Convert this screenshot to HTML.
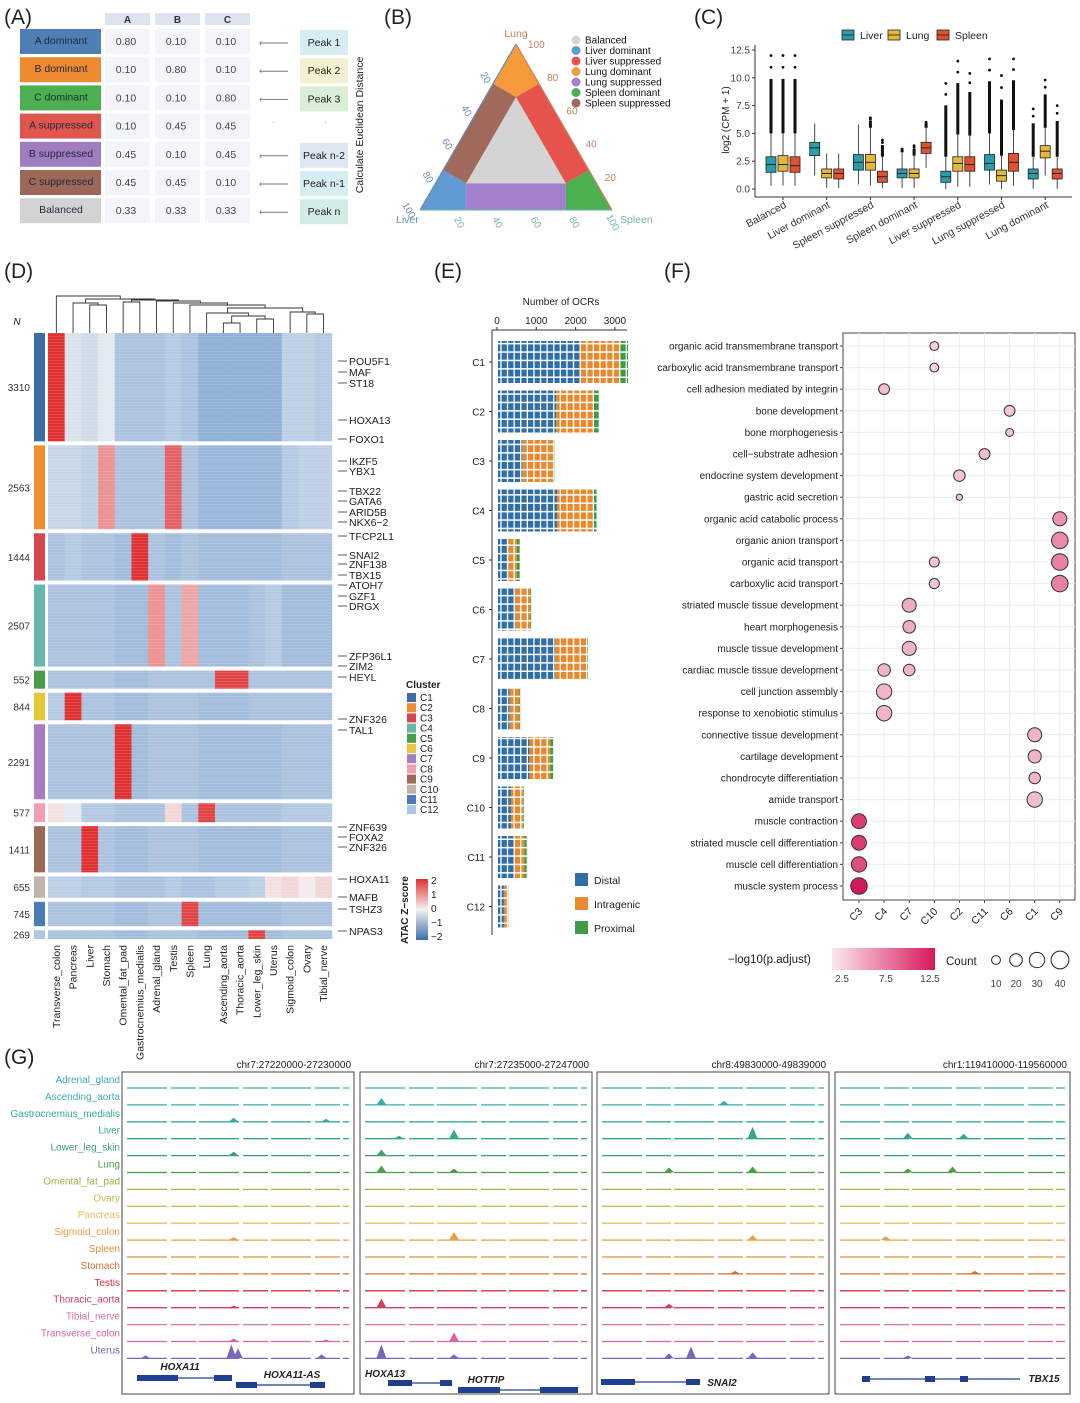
<!DOCTYPE html>
<html><head><meta charset="utf-8">
<style>
html,body{margin:0;padding:0;background:#fff;}
svg{display:block;font-family:"Liberation Sans",Arial,sans-serif;}
</style></head>
<body>
<svg id="fig" width="1080" height="1403" viewBox="0 0 1080 1403" xmlns="http://www.w3.org/2000/svg">
<defs>
<pattern id="brick" width="6.6" height="8.4" patternUnits="userSpaceOnUse">
<rect x="0" y="6.9" width="6.6" height="1.5" fill="#fff"/>
<rect x="5.3" y="0" width="1.3" height="8.4" fill="#fff"/>
</pattern>
<linearGradient id="pgrad" x1="0" x2="1" y1="0" y2="0"><stop offset="0" stop-color="#fbe8ef"/><stop offset="1" stop-color="#d6185a"/></linearGradient>
<linearGradient id="zgrad" x1="0" x2="0" y1="0" y2="1"><stop offset="0" stop-color="#e03030"/><stop offset="0.5" stop-color="#f2f2f2"/><stop offset="1" stop-color="#3a6fa8"/></linearGradient>
</defs>
</svg>
<script>
// ---------- DATA ----------
const aRows = ["A dominant","B dominant","C dominant","A suppressed","B suppressed","C suppressed","Balanced"];
const aValsA = ["0.80","0.10","0.10","0.10","0.45","0.45","0.33"];
const aValsB = ["0.10","0.80","0.10","0.45","0.10","0.45","0.33"];
const aValsC = ["0.10","0.10","0.80","0.45","0.45","0.10","0.33"];
const aPeaks = ["Peak 1","Peak 2","Peak 3","","Peak n-2","Peak n-1","Peak n"];

const boxGroups = ["Balanced","Liver dominant","Spleen suppressed","Spleen dominant","Liver suppressed","Lung suppressed","Lung dominant"];
const boxLiver = [[0.3,1.5,2.2,2.9,5.0,12.0],[1.2,3.0,3.7,4.2,5.9,5.9],[0.4,1.7,2.4,3.1,5.8,6.0],[0.1,1.0,1.4,1.8,3.3,3.6],[0,0.6,1.1,1.6,2.9,9.5],[0.4,1.7,2.3,3.1,5.0,11.7],[0,0.9,1.4,1.8,2.9,7.2]];
const boxLung = [[0.3,1.6,2.2,3.0,5.0,12.0],[0.1,1.0,1.4,1.8,3.2,3.5],[0.3,1.7,2.4,3.1,5.5,6.4],[0.1,1.0,1.4,1.8,3.0,3.9],[0.2,1.6,2.3,2.9,4.9,11.5],[0,0.7,1.2,1.7,3.0,10.2],[1.2,2.8,3.4,3.9,5.5,9.8]];
const boxSpleen = [[0.3,1.5,2.1,2.9,5.0,12.0],[0.1,0.9,1.4,1.8,3.2,3.5],[0.1,0.6,1.1,1.6,2.9,4.4],[1.9,3.2,3.7,4.2,5.5,6.0],[0.2,1.6,2.2,2.9,4.8,10.4],[0.3,1.6,2.4,3.2,5.3,11.7],[0,0.9,1.4,1.8,2.9,7.5]];
const boxTicks = [0,2.5,5,7.5,10,12.5];

const tissues = ["Transverse_colon","Pancreas","Liver","Stomach","Omental_fat_pad","Gastrocnemius_medialis","Adrenal_gland","Testis","Spleen","Lung","Ascending_aorta","Thoracic_aorta","Lower_leg_skin","Uterus","Sigmoid_colon","Ovary","Tibial_nerve"];
const clusterN = [3310,2563,1444,2507,552,844,2291,577,1411,655,745,269];
const hm = [
[2.0,-0.3,-0.4,-0.2,-0.8,-0.8,-0.8,-0.7,-0.8,-1.1,-1.1,-1.1,-1.1,-1.1,-0.6,-0.6,-0.7],
[-0.5,-0.5,-0.6,1.0,-0.8,-0.8,-0.8,1.5,-0.8,-1.0,-1.0,-1.0,-1.0,-1.0,-0.7,-0.6,-0.6],
[-0.8,-0.7,-0.8,-0.8,-0.9,2.0,-0.8,-0.9,-0.8,-0.9,-0.9,-0.9,-0.9,-0.9,-0.8,-0.8,-0.8],
[-0.8,-0.8,-0.8,-0.8,-0.9,-0.9,1.0,-0.8,0.8,-0.9,-0.9,-0.9,-0.8,-0.7,-0.9,-0.9,-0.9],
[-0.8,-0.8,-0.8,-0.8,-0.9,-0.9,-0.8,-0.8,-0.8,-0.8,1.8,1.8,-0.8,-0.8,-0.8,-0.8,-0.8],
[-0.7,2.0,-0.8,-0.8,-0.9,-0.9,-0.8,-0.8,-0.8,-0.9,-0.9,-0.9,-0.8,-0.8,-0.8,-0.8,-0.8],
[-0.8,-0.8,-0.8,-0.8,2.0,-0.9,-0.8,-0.8,-0.8,-0.9,-0.9,-0.9,-0.9,-0.9,-0.8,-0.8,-0.8],
[0.2,-0.2,-0.7,-0.7,-0.8,-0.8,-0.8,0.3,-0.8,1.8,-0.8,-0.8,-0.8,-0.8,-0.7,-0.7,-0.7],
[-0.8,-0.8,2.0,-0.8,-0.9,-0.9,-0.8,-0.8,-0.8,-0.9,-0.9,-0.9,-0.9,-0.9,-0.8,-0.8,-0.8],
[-0.6,-0.6,-0.7,-0.7,-0.8,-0.8,-0.8,-0.7,-0.8,-0.8,-0.7,-0.7,-0.6,0.2,0.3,0.1,0.3],
[-0.8,-0.8,-0.8,-0.8,-0.9,-0.9,-0.8,-0.8,1.8,-0.9,-0.9,-0.9,-0.9,-0.9,-0.8,-0.8,-0.8],
[-0.8,-0.8,-0.8,-0.8,-0.9,-0.9,-0.8,-0.8,-0.8,-0.9,-0.9,-0.9,1.8,-0.9,-0.8,-0.8,-0.8]];
const clusterColors = ["#3d6da4","#ee8e2e","#d9454f","#66b8a8","#4a9e48","#e6c73a","#a87cc0","#f0a0b0","#9a6a55","#c0b4ac","#4a7db8","#a8c8e6"];
const geneLabels = ["POU5F1","MAF","ST18","HOXA13","FOXO1","IKZF5","YBX1","TBX22","GATA6","ARID5B","NKX6−2","TFCP2L1","SNAI2","ZNF138","TBX15","ATOH7","GZF1","DRGX","ZFP36L1","ZIM2","HEYL","ZNF326","TAL1","ZNF639","FOXA2","ZNF326","HOXA11","MAFB","TSHZ3","NPAS3"];
const geneY = [361,372,383,420,439,461,471,491,501,512,522,536,555,564,575,585,596,606,656,666,677,719,730,827,837,847,879,897,909,931];

const ocrCats = ["C1","C2","C3","C4","C5","C6","C7","C8","C9","C10","C11","C12"];
const ocrDistal = [2100,1480,620,1500,250,440,1450,300,800,330,420,150];
const ocrIntragenic = [1000,960,780,900,230,380,790,240,530,300,250,110];
const ocrProximal = [210,123,44,107,72,24,51,37,81,25,75,9];
const ocrTicks = [0,1000,2000,3000];

const goTerms = ["organic acid transmembrane transport","carboxylic acid transmembrane transport","cell adhesion mediated by integrin","bone development","bone morphogenesis","cell−substrate adhesion","endocrine system development","gastric acid secretion","organic acid catabolic process","organic anion transport","organic acid transport","carboxylic acid transport","striated muscle tissue development","heart morphogenesis","muscle tissue development","cardiac muscle tissue development","cell junction assembly","response to xenobiotic stimulus","connective tissue development","cartilage development","chondrocyte differentiation","amide transport","muscle contraction","striated muscle cell differentiation","muscle cell differentiation","muscle system process"];
const goClusters = ["C3","C4","C7","C10","C2","C11","C6","C1","C9"];
const dotTerm = [0,1,2,3,4,5,6,7,8,9,10,10,11,11,12,13,14,15,15,16,17,18,19,20,21,22,23,24,25];
const dotCluster = ["C10","C10","C4","C6","C6","C11","C2","C2","C9","C9","C10","C9","C10","C9","C7","C7","C7","C4","C7","C4","C4","C1","C1","C1","C1","C3","C3","C3","C3"];
const dotCount = [10,10,15,15,8,15,17,5,25,35,13,35,13,35,25,20,25,20,17,30,30,25,22,17,30,28,28,30,35];
const dotP = [2.5,2.5,3.5,3,3,3.5,3,3,6,6.5,3,7,3,7,4.5,4.5,4,4,4,4,4,4,4,4,3.5,11,11,10,13];

const trackNames = ["Adrenal_gland","Ascending_aorta","Gastrocnemius_medialis","Liver","Lower_leg_skin","Lung","Omental_fat_pad","Ovary","Pancreas","Sigmoid_colon","Spleen","Stomach","Testis","Thoracic_aorta","Tibial_nerve","Transverse_colon","Uterus"];
const trackColors = ["#3aacb5","#38aeb0","#36ab9e","#35a88a","#3aa070","#4c9e48","#98b840","#c8c050","#e8c060","#e8a040","#e09030","#d07030","#d03040","#d04060","#e070a0","#d860a8","#7868b8"];
const regions = ["chr7:27220000-27230000","chr7:27235000-27247000","chr8:49830000-49839000","chr1:119410000-119560000"];
const peaks1 = [[2,0.48,4],[2,0.9,3],[4,0.48,4],[9,0.48,3],[13,0.48,2],[15,0.48,3],[15,0.9,2],[16,0.47,14],[16,0.5,10],[16,0.88,4],[16,0.08,3]];
const peaks2 = [[1,0.07,7],[3,0.4,9],[3,0.15,3],[4,0.07,6],[5,0.07,7],[5,0.4,4],[9,0.4,8],[13,0.07,9],[15,0.4,9],[16,0.07,14],[16,0.4,4]];
const peaks3 = [[1,0.55,4],[3,0.68,12],[5,0.3,5],[5,0.68,6],[9,0.68,5],[11,0.6,3],[13,0.3,4],[16,0.4,12],[16,0.68,6],[16,0.3,5]];
const peaks4 = [[3,0.3,6],[3,0.55,5],[5,0.5,6],[5,0.3,4],[9,0.2,4],[11,0.6,3],[16,0.3,3]];

// ---------- helpers ----------
const NS="http://www.w3.org/2000/svg";
const svg=document.getElementById('fig');
function el(tag,attrs,parent){const e=document.createElementNS(NS,tag);for(const k in attrs)e.setAttribute(k,attrs[k]);(parent||svg).appendChild(e);return e;}
function txt(x,y,s,attrs,parent){const t=el('text',Object.assign({x:x,y:y,'font-size':10,fill:'#222'},attrs||{}),parent);t.textContent=s;return t;}
function grp(name){const g=el('g',{});return g;}

// panel letters
[["(A)",4,24],["(B)",384,24],["(C)",694,24],["(D)",4,278],["(E)",434,278],["(F)",664,278],["(G)",4,1064]].forEach(p=>{
  const t=txt(p[1],p[2],p[0],{'font-size':21,fill:'#222'});
  
  
});

// ---------- (A) ----------
(function(){
const g=grp('panel-a-table');
const labCols=["#4f7fb5","#ee8a30","#4caf50","#e0564e","#a07cc0","#9e6858","#d3d3d3"];
const peakCols=["#d6eef2","#f4f1d2","#dbeed8","","#dfe6f4","#d6eef2","#d4ece6"];
const colX=[105,155,205];
["A","B","C"].forEach((h,i)=>{
  const r=el('rect',{x:colX[i],y:13,width:45,height:12,fill:'#dde3ef'},g);
  
  
  txt(colX[i]+22.5,23,h,{'text-anchor':'middle','font-size':10,'font-weight':'bold',fill:'#333'},g);
});
const vals=[aValsA,aValsB,aValsC];
aRows.forEach((lab,i)=>{
  const y=29+i*28.2;
  const b=el('rect',{x:20,y:y,width:81,height:25,fill:labCols[i]},g);
  
  
  txt(61,y+15,lab,{'text-anchor':'middle','font-size':10.5,fill:'#1e2a3a'},g);
  for(let c=0;c<3;c++){
    el('rect',{x:colX[c],y:y,width:45,height:25,fill:'#f3f5f9'},g);
    txt(colX[c]+21,y+16,vals[c][i],{'text-anchor':'middle','font-size':10.5,fill:'#444'},g);
  }
  if(aPeaks[i]){
    const a=el('line',{x1:260,y1:y+14,x2:288,y2:y+14,stroke:'#777','stroke-width':1},g);
    
    
    txt(259,y+16.5,'‹',{'font-size':9,fill:'#777'},g);
    el('rect',{x:300,y:y+1,width:48,height:25,fill:peakCols[i]},g);
    txt(324,y+17,aPeaks[i],{'text-anchor':'middle','font-size':10.5,fill:'#222'},g);
  } else {
    txt(272,y+11,'·',{'font-size':9,fill:'#aaa'},g);txt(324,y+11,'·',{'font-size':9,fill:'#aaa'},g);
  }
});
const v=txt(0,0,'Calculate Euclidean Distance',{'font-size':10.5,'text-anchor':'middle',transform:'translate(363,125) rotate(-90)',fill:'#222'},g);


})();

// ---------- (B) ternary ----------
(function(){
const g=grp('panel-b-ternary');
const L=[420,210],S=[612,210],T=[516,44];
function P(li,lu,sp){return [L[0]*li+S[0]*sp+T[0]*lu, L[1]*li+S[1]*sp+T[1]*lu];}
function foot(p,a,b){const dx=b[0]-a[0],dy=b[1]-a[1];const t=((p[0]-a[0])*dx+(p[1]-a[1])*dy)/(dx*dx+dy*dy);return [a[0]+t*dx,a[1]+t*dy];}
const iL=P(0.68,0.16,0.16),iS=P(0.16,0.16,0.68),iT=P(0.16,0.68,0.16);
function poly(pts,fill,name){const p=el('polygon',{points:pts.map(q=>q[0].toFixed(1)+','+q[1].toFixed(1)).join(' '),fill:fill},g);return p;}
poly([iL,iS,iT],'#d4d4d4','balanced-region');
poly([L,foot(iL,L,S),iL,foot(iL,L,T)],'#5f9ad3','liver-dominant-region');
poly([S,foot(iS,S,T),iS,foot(iS,L,S)],'#4cb050','spleen-dominant-region');
poly([T,foot(iT,T,L),iT,foot(iT,T,S)],'#f59a3a','lung-dominant-region');
poly([foot(iL,L,S),foot(iS,L,S),iS,iL],'#a47fcc','lung-suppressed-region');
poly([foot(iS,S,T),foot(iT,T,S),iT,iS],'#e6534a','liver-suppressed-region');
poly([foot(iT,T,L),foot(iL,L,T),iL,iT],'#a0695c','spleen-suppressed-region');
el('line',{x1:L[0],y1:L[1],x2:T[0],y2:T[1],stroke:'#6a8db0','stroke-width':1.2},g);
el('line',{x1:T[0],y1:T[1],x2:S[0],y2:S[1],stroke:'#c98060','stroke-width':1.2},g);
el('line',{x1:L[0],y1:L[1],x2:S[0],y2:S[1],stroke:'#70b8a8','stroke-width':1.2},g);
[20,40,60,80,100].forEach(v=>{
  const f=v/100;
  let p=P(f,1-f,0); txt(p[0]-14,p[1]+2,String(v),{'font-size':10,fill:'#6a8db0','text-anchor':'middle',transform:`rotate(60 ${p[0]-14} ${p[1]+2})`},g);
  p=P(0,f,1-f); txt(p[0]+12,p[1]+4,String(v),{'font-size':10,fill:'#c98060'},g);
  p=P(1-f,0,f); txt(p[0]-2,p[1]+14,String(v),{'font-size':10,fill:'#70b8a8','text-anchor':'middle',transform:`rotate(60 ${p[0]-2} ${p[1]+14})`},g);
});
txt(516,37,'Lung',{'font-size':10.5,fill:'#c98060','text-anchor':'middle'},g);
txt(396,223,'Liver',{'font-size':10.5,fill:'#6a8db0'},g);
txt(620,223,'Spleen',{'font-size':10.5,fill:'#70b8a8'},g);
const leg=[["Balanced","#d4d4d4"],["Liver dominant","#5f9ad3"],["Liver suppressed","#e6534a"],["Lung dominant","#f59a3a"],["Lung suppressed","#a47fcc"],["Spleen dominant","#4cb050"],["Spleen suppressed","#a0695c"]];
leg.forEach((d,i)=>{
  const c=el('circle',{cx:576,cy:40+i*10.5,r:4.5,fill:d[1]},g);
  
  
  txt(585,43.5+i*10.5,d[0],{'font-size':10,fill:'#111'},g);
});
})();

// ---------- (C) boxplots ----------
(function(){
const g=grp('panel-c-boxplot');
const y0=189, yk=11.12;
const Y=v=>y0-v*yk;
const X=i=>783+i*43.7;
el('line',{x1:755,y1:45,x2:755,y2:197,stroke:'#333'},g);
el('line',{x1:755,y1:197,x2:1072,y2:197,stroke:'#333'},g);
boxTicks.forEach(t=>{
  el('line',{x1:752,y1:Y(t),x2:755,y2:Y(t),stroke:'#333'},g);
  txt(750,Y(t)+3.5,t.toFixed(1),{'font-size':10,'text-anchor':'end',fill:'#444'},g);
});
const yt=txt(0,0,'log2 (CPM + 1)',{'font-size':10,'text-anchor':'middle',transform:'translate(729,120) rotate(-90)'},g);


const series=[[boxLiver,'#2a9dab',-12],[boxLung,'#e6b83a',0],[boxSpleen,'#e0522f',12]];
boxGroups.forEach((name,i)=>{
  el('line',{x1:X(i),y1:197,x2:X(i),y2:200,stroke:'#333'},g);
  const t=txt(X(i)+4,207,name,{'font-size':10.5,'text-anchor':'end',fill:'#333',transform:`rotate(-28 ${X(i)+4} 207)`},g);
  
  
  series.forEach(s=>{
    const d=s[0][i], cx=X(i)+s[2];
    if(d[5]>d[4]+0.3){
      const dense=d[4]+(d[5]-d[4])*0.7;
      el('line',{x1:cx,y1:Y(d[4]),x2:cx,y2:Y(dense),stroke:'#111','stroke-width':3},g);
      el('circle',{cx:cx,cy:Y(d[5]),r:1.4,fill:'#111'},g);
      el('circle',{cx:cx,cy:Y((d[5]+dense)/2),r:1.4,fill:'#111'},g);
    }
    el('line',{x1:cx,y1:Y(d[0]),x2:cx,y2:Y(d[4]),stroke:'#333','stroke-width':0.9},g);
    const b=el('rect',{x:cx-5,y:Y(d[3]),width:10,height:Y(d[1])-Y(d[3]),fill:s[1],stroke:'#222','stroke-width':0.8},g);
    
    
    el('line',{x1:cx-5,y1:Y(d[2]),x2:cx+5,y2:Y(d[2]),stroke:'#222','stroke-width':1},g);
  });
});
[["Liver",'#2a9dab',842],["Lung",'#e6b83a',888],["Spleen",'#e0522f',937]].forEach(l=>{
  const r=el('rect',{x:l[2],y:30,width:12,height:10,fill:l[1],stroke:'#222','stroke-width':0.8},g);
  
  
  el('line',{x1:l[2],y1:35,x2:l[2]+12,y2:35,stroke:'#222','stroke-width':0.8},g);
  txt(l[2]+18,39,l[0],{'font-size':10.5,fill:'#222'},g);
});
})();

// ---------- (D) heatmap ----------
(function(){
const g=grp('panel-d-heatmap');
const x0=48,cw=16.7,top=333,gap=4;
const total=clusterN.reduce((a,b)=>a+b,0);
const k=(606-gap*11)/total;
function col(v){
  const c1=[60,120,190],c0=[245,245,245],c2=[224,48,48];
  const t=Math.max(-1,Math.min(1,v/2));
  const a=t<0?c1:c2,f=Math.abs(t);
  return 'rgb('+[0,1,2].map(j=>Math.round(c0[j]+(a[j]-c0[j])*f)).join(',')+')';
}
let y=top;
clusterN.forEach((n,ci)=>{
  const h=n*k;
  const bar=el('rect',{x:34,y:y,width:11,height:h,fill:clusterColors[ci]},g);
  
  
  txt(30,y+h/2+4,String(n),{'font-size':10,'text-anchor':'end',fill:'#333'},g);
  tissues.forEach((t,j)=>{
    const c=el('rect',{x:x0+j*cw,y:y,width:cw+0.3,height:h,fill:col(hm[ci][j])},g);
    
    
  });
  y+=h+gap;
});
for(let yy=top;yy<939;yy+=3){el('rect',{x:x0,y:yy,width:17*cw,height:1,fill:'#ffffff',opacity:0.12},g);}
txt(17,325,'N',{'font-size':10,'font-style':'italic','text-anchor':'middle'},g);
tissues.forEach((t,j)=>{
  const cx=x0+(j+0.5)*cw;
  const l=txt(cx+3.5,945,t,{'font-size':10.5,'text-anchor':'end',fill:'#222',transform:`rotate(-90 ${cx+3.5} 945)`},g);
  
  
});
const cx=j=>x0+(j+0.5)*cw;
const nodes={};
const merges=[["m1",10,11,323],["m2",12,13,319],["m3","m1","m2",316],["m4",9,"m3",313],["m5",15,16,314],["m6",14,"m5",312],["m7","m4","m6",308],["m8",8,"m7",305],["m9",7,"m8",303],["m10",6,"m9",301],["m11",2,3,305],["m12",1,"m11",303],["m13",4,5,302],["m14","m13","m10",300],["m15","m12","m14",299],["m16",0,"m15",296]];
function pos(id){return typeof id==='number'?[cx(id),333]:nodes[id];}
merges.forEach(m=>{
  const a=pos(m[1]),b=pos(m[2]);
  el('path',{d:`M${a[0]},${a[1]}V${m[3]}H${b[0]}V${b[1]}`,fill:'none',stroke:'#333','stroke-width':0.9},g);
  nodes[m[0]]=[(a[0]+b[0])/2,m[3]];
});
geneLabels.forEach((s,i)=>{
  el('line',{x1:338,y1:geneY[i],x2:347,y2:geneY[i],stroke:'#333','stroke-width':0.8},g);
  const t=txt(349,geneY[i]+4,s,{'font-size':10.5,fill:'#222'},g);
  
  
});
txt(406,688,'Cluster',{'font-size':10,'font-weight':'bold'},g);
ocrCats.forEach((c,i)=>{
  const r=el('rect',{x:407,y:693+i*10.2,width:9,height:9,fill:clusterColors[i]},g);
  
  
  txt(420,701+i*10.2,c,{'font-size':10},g);
});
el('rect',{x:416,y:879,width:12,height:61,fill:'url(#zgrad)'},g);
["2","1","0","−1","−2"].forEach((s,i)=>txt(431,884+i*14,s,{'font-size':10},g));
txt(0,0,'ATAC Z−score',{'font-size':10,'font-weight':'bold','text-anchor':'middle',transform:'translate(408,910) rotate(-90)'},g);
})();

// ---------- (E) waffle bars ----------
(function(){
const g=grp('panel-e-ocr-bars');
const X=v=>497+v*0.0393;
const Yc=i=>362+i*49.5;
el('line',{x1:492,y1:330,x2:627,y2:330,stroke:'#333'},g);
el('line',{x1:492,y1:330,x2:492,y2:935,stroke:'#333'},g);
txt(561,305,'Number of OCRs',{'font-size':10,'text-anchor':'middle'},g);
ocrTicks.forEach(t=>{el('line',{x1:X(t),y1:327,x2:X(t),y2:330,stroke:'#333'},g);txt(X(t),324,String(t),{'font-size':10,'text-anchor':'middle'},g);});
ocrCats.forEach((c,i)=>{
  const y=Yc(i)-21;
  txt(485,Yc(i)+4,c,{'font-size':10,'text-anchor':'end'},g);
  el('line',{x1:489,y1:Yc(i),x2:492,y2:Yc(i),stroke:'#333'},g);
  const d=ocrDistal[i],n=ocrIntragenic[i],p=ocrProximal[i];
  [[0,d,'#2f6fa5','distal'],[d,d+n,'#e8892e','intragenic'],[d+n,d+n+p,'#3f9b45','proximal']].forEach(s=>{
    const r=el('rect',{x:X(s[0])+1,y:y,width:X(s[1])-X(s[0]),height:42,fill:s[2]},g);
    
    
  });
  el('rect',{x:X(0)+1,y:y,width:X(d+n+p)-X(0),height:42,fill:'url(#brick)'},g);
});
[["Distal","#2f6fa5"],["Intragenic","#e8892e"],["Proximal","#3f9b45"]].forEach((l,i)=>{
  const r=el('rect',{x:575,y:873+i*24,width:13,height:13,fill:l[1]},g);
  
  
  txt(594,884+i*24,l[0],{'font-size':10.5},g);
});
})();

// ---------- (F) dot plot ----------
(function(){
const g=grp('panel-f-go-dotplot');
const X=c=>859+goClusters.indexOf(c)*25.1;
const Y=i=>346+i*21.6;
el('rect',{x:843,y:333,width:232,height:567,fill:'#fff',stroke:'#444','stroke-width':1},g);
goClusters.forEach((c,i)=>{el('line',{x1:X(c),y1:333,x2:X(c),y2:900,stroke:'#ececec'},g);});
goTerms.forEach((t,i)=>{
  el('line',{x1:843,y1:Y(i),x2:1075,y2:Y(i),stroke:'#ececec'},g);
  el('line',{x1:840,y1:Y(i),x2:843,y2:Y(i),stroke:'#444'},g);
  const l=txt(838,Y(i)+3.5,t,{'font-size':10,'text-anchor':'end',fill:'#222'},g);
  
  
});
goClusters.forEach(c=>{
  el('line',{x1:X(c),y1:900,x2:X(c),y2:903,stroke:'#444'},g);
  const l=txt(X(c)+4,912,c,{'font-size':10.5,'text-anchor':'end',transform:`rotate(-45 ${X(c)+4} 912)`},g);
  
  
});
function pc(v){const t=Math.max(0,Math.min(1,(v-1)/12));const a=[251,232,239],b=[214,24,90];return 'rgb('+[0,1,2].map(j=>Math.round(a[j]+(b[j]-a[j])*t)).join(',')+')';}
dotTerm.forEach((ti,k)=>{
  const c=el('circle',{cx:X(dotCluster[k]),cy:Y(ti),r:1.4*Math.sqrt(dotCount[k]),fill:pc(dotP[k]),stroke:'#333','stroke-width':1},g);
  
  
});
txt(728,963,'−log10(p.adjust)',{'font-size':11.5},g);
el('rect',{x:832,y:948,width:103,height:22,fill:'url(#pgrad)'},g);
[["2.5",842],["7.5",886],["12.5",930]].forEach(l=>txt(l[1],982,l[0],{'font-size':10,'text-anchor':'middle',fill:'#444'},g));
txt(946,965,'Count',{'font-size':11.5},g);
[[10,996],[20,1016],[30,1037],[40,1060]].forEach(l=>{
  const c=el('circle',{cx:l[1],cy:960,r:1.4*Math.sqrt(l[0]),fill:'none',stroke:'#222','stroke-width':1},g);
  
  
  txt(l[1],987,String(l[0]),{'font-size':10,'text-anchor':'middle',fill:'#444'},g);
});
})();

// ---------- (G) tracks ----------
(function(){
const g=grp('panel-g-tracks');
const panels=[[122,354],[360,592],[597,829],[835,1070]];
const allPeaks=[peaks1,peaks2,peaks3,peaks4];
const base=i=>1088+i*16.9;
trackNames.forEach((n,i)=>{
  const t=txt(120,base(i)-5,n,{'font-size':10,'text-anchor':'end',fill:trackColors[i]},g);
  
  
});
panels.forEach((p,pi)=>{
  const b=el('rect',{x:p[0],y:1072,width:p[1]-p[0],height:322,fill:'none',stroke:'#444','stroke-width':1},g);
  
  
  txt(p[1]-3,1068,regions[pi],{'font-size':10,'text-anchor':'end'},g);
  const w=p[1]-p[0]-12;
  trackNames.forEach((n,i)=>{
    el('line',{x1:p[0]+5,y1:base(i),x2:p[1]-5,y2:base(i),stroke:trackColors[i],'stroke-width':1.3,'stroke-dasharray':'40 4 25 3'},g);
  });
  allPeaks[pi].forEach(pk=>{
    const x=p[0]+6+pk[1]*w,yb=base(pk[0]);
    const pa=el('path',{d:`M${x-5},${yb}L${x-2},${yb-pk[2]*0.6}L${x},${yb-pk[2]}L${x+2},${yb-pk[2]*0.6}L${x+5},${yb}Z`,fill:trackColors[pk[0]]},g);
    
    
  });
});
const gc='#1f3f8f';
function gene(x1,x2,y,boxes){el('line',{x1:x1,y1:y+3,x2:x2,y2:y+3,stroke:gc,'stroke-width':1.2},g);boxes.forEach(b=>el('rect',{x:b[0],y:y,width:b[1]-b[0],height:6,fill:gc},g));}
gene(137,232,1375,[[137,178],[214,232]]);gene(236,325,1382,[[236,257],[310,325]]);
gene(388,452,1380,[[388,412],[440,452]]);gene(458,578,1387,[[458,500],[540,578]]);
gene(601,700,1379,[[601,635],[686,700]]);
gene(862,1020,1376,[[862,870],[925,935],[960,968]]);
[["HOXA11",180,1370],["HOXA11-AS",292,1378],["HOXA13",385,1377],["HOTTIP",486,1383],["SNAI2",722,1386],["TBX15",1044,1382]].forEach(l=>{
  const t=txt(l[1],l[2],l[0],{'font-size':10,'font-style':'italic','text-anchor':'middle','font-weight':'bold',fill:'#222'},g);
  
  
});
})();
</script>
</body></html>
